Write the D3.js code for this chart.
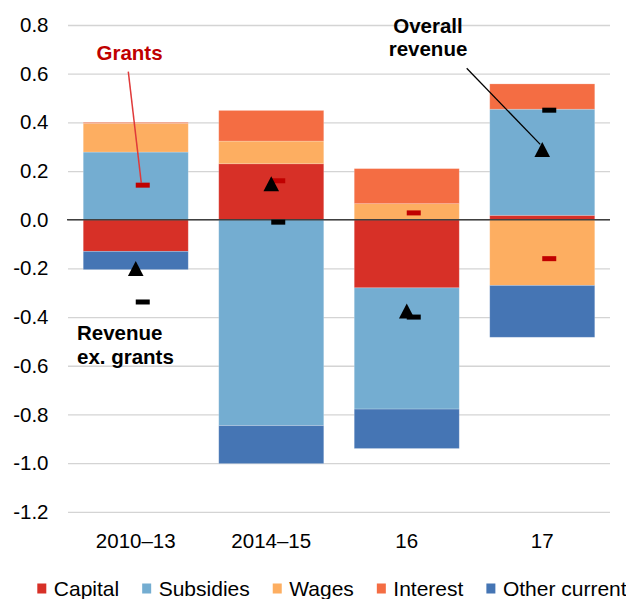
<!DOCTYPE html>
<html>
<head>
<meta charset="utf-8">
<script src="https://cdn.jsdelivr.net/npm/d3@7"></script>
<style>
  body { margin: 0; background: #fff; }
  text { font-family: "Liberation Sans", Arial, sans-serif; }
</style>
</head>
<body>
<svg width="626" height="599"></svg>
<script>
// Chart data
var categories = ["2010–13", "2014–15", "16", "17"];
var seriesNames = ["Capital", "Subsidies", "Wages", "Interest", "Other current"];
var capital = [-0.13, 0.23, -0.28, 0.018];
var subsidies = [0.278, -0.846, -0.498, 0.436];
var wages = [0.118, 0.093, 0.066, -0.27];
var interest = [0.004, 0.126, 0.144, 0.104];
var otherCurrent = [-0.075, -0.156, -0.162, -0.213];
var overallRevenue = [-0.2, 0.148, -0.375, 0.289];
var revenueExGrants = [-0.338, -0.01, -0.4, 0.45];
var grants = [0.142, 0.16, 0.028, -0.16];
var tickValues = [0.8, 0.6, 0.4, 0.2, 0.0, -0.2, -0.4, -0.6, -0.8, -1.0, -1.2];

var colors = ["#d73027", "#74add1", "#fdae61", "#f46d43", "#4575b4"];

// Build rows for the stack
var rows = categories.map(function(c, i) {
  return {
    cat: c,
    "Capital": capital[i],
    "Subsidies": subsidies[i],
    "Wages": wages[i],
    "Interest": interest[i],
    "Other current": otherCurrent[i]
  };
});

var svg = d3.select("svg"),
    width = +svg.attr("width"),
    height = +svg.attr("height");

var plotLeft = 68, plotRight = 610;

var x = d3.scaleBand()
    .domain(categories)
    .range([plotLeft, plotRight])
    .paddingInner(0.225)
    .paddingOuter(0.1125);

var y = d3.scaleLinear()
    .domain([-1.2, 0.8])
    .range([511.8, 25]);

var color = d3.scaleOrdinal()
    .domain(seriesNames)
    .range(colors);

// Gridlines and tick labels
var yAxis = svg.append("g")
    .attr("transform", "translate(" + plotLeft + ",0)")
    .call(d3.axisLeft(y)
      .tickValues(tickValues)
      .tickSize(-(plotRight - plotLeft))
      .tickPadding(19.5)
      .tickFormat(function(d) { return d.toFixed(1); }));

yAxis.select(".domain").remove();
yAxis.selectAll("line")
    .attr("stroke", "#d4d4d4")
    .attr("stroke-width", 1.3);
yAxis.selectAll("text")
    .attr("fill", "#000")
    .style("font-size", "20.5px")
    .style("font-family", "'Liberation Sans', Arial, sans-serif");

// Stacked bars
var stack = d3.stack()
    .keys(seriesNames)
    .offset(d3.stackOffsetDiverging);

var layers = svg.append("g")
  .selectAll("g")
  .data(stack(rows))
  .enter().append("g")
    .attr("fill", function(d) { return color(d.key); });

layers.selectAll("rect")
  .data(function(d) { return d; })
  .enter().append("rect")
    .attr("x", function(d) { return x(d.data.cat); })
    .attr("width", x.bandwidth())
    .attr("y", function(d) { return y(Math.max(d[0], d[1])); })
    .attr("height", function(d) { return Math.abs(y(d[0]) - y(d[1])); })
    .attr("stroke", "#fff")
    .attr("stroke-opacity", 0.25)
    .attr("stroke-width", 0.8);

// Zero line
svg.append("line")
    .attr("x1", plotLeft - 1)
    .attr("x2", plotRight)
    .attr("y1", y(0))
    .attr("y2", y(0))
    .attr("stroke", "#404040")
    .attr("stroke-width", 1.5);

function cx(i) { return x(categories[i]) + x.bandwidth() / 2; }

// Annotation connector lines
svg.append("line")
    .attr("x1", 128.3)
    .attr("y1", 71.7)
    .attr("x2", cx(0) + 5.5)
    .attr("y2", y(grants[0]) - 2.5)
    .attr("stroke", "#e03a3a")
    .attr("stroke-width", 1.5);

svg.append("line")
    .attr("x1", 466.7)
    .attr("y1", 68.3)
    .attr("x2", cx(3) - 2)
    .attr("y2", y(overallRevenue[3]) - 5)
    .attr("stroke", "#000")
    .attr("stroke-width", 1.3);

// Grants markers (red dashes)
svg.append("g")
  .selectAll("rect")
  .data(grants)
  .enter().append("rect")
    .attr("x", function(d, i) { return cx(i); })
    .attr("y", function(d) { return y(d) - 2.5; })
    .attr("width", 14)
    .attr("height", 5)
    .attr("fill", "#c00000");

// Revenue ex. grants markers (black dashes)
svg.append("g")
  .selectAll("rect")
  .data(revenueExGrants)
  .enter().append("rect")
    .attr("x", function(d, i) { return cx(i); })
    .attr("y", function(d) { return y(d) - 2.5; })
    .attr("width", 14)
    .attr("height", 5)
    .attr("fill", "#000");

// Overall revenue markers (triangles)
svg.append("g")
  .selectAll("path")
  .data(overallRevenue)
  .enter().append("path")
    .attr("transform", function(d, i) { return "translate(" + cx(i) + "," + y(d) + ")"; })
    .attr("d", "M0,-7.5L7.8,7.5L-7.8,7.5Z")
    .attr("fill", "#000");

// Category labels
svg.append("g")
  .selectAll("text")
  .data(categories)
  .enter().append("text")
    .attr("x", function(d) { return x(d) + x.bandwidth() / 2; })
    .attr("y", 548)
    .attr("text-anchor", "middle")
    .style("font-size", "20.5px")
    .text(function(d) { return d; });

// Annotation texts
svg.append("text")
    .attr("x", 129.5)
    .attr("y", 60)
    .attr("text-anchor", "middle")
    .attr("fill", "#c00000")
    .attr("font-weight", "bold")
    .style("font-size", "20.5px")
    .text("Grants");

var overallLabel = svg.append("text")
    .attr("text-anchor", "middle")
    .attr("font-weight", "bold")
    .style("font-size", "20.5px");
overallLabel.append("tspan").attr("x", 428).attr("y", 33).text("Overall");
overallLabel.append("tspan").attr("x", 428).attr("y", 56).text("revenue");

var exLabel = svg.append("text")
    .attr("font-weight", "bold")
    .style("font-size", "20.5px");
exLabel.append("tspan").attr("x", 77).attr("y", 340).text("Revenue");
exLabel.append("tspan").attr("x", 77).attr("y", 364).text("ex. grants");

// Legend
var legend = svg.append("g").attr("class", "legend");
var lx = 37.3;
seriesNames.forEach(function(name, i) {
  legend.append("rect")
      .attr("x", lx)
      .attr("y", 583.5)
      .attr("width", 9)
      .attr("height", 10)
      .attr("fill", colors[i]);
  var t = legend.append("text")
      .attr("x", lx + 16.5)
      .attr("y", 596)
      .style("font-size", "21px")
      .text(name);
  lx = lx + 16.5 + t.node().getComputedTextLength() + 23;
});
</script>
</body>
</html>
